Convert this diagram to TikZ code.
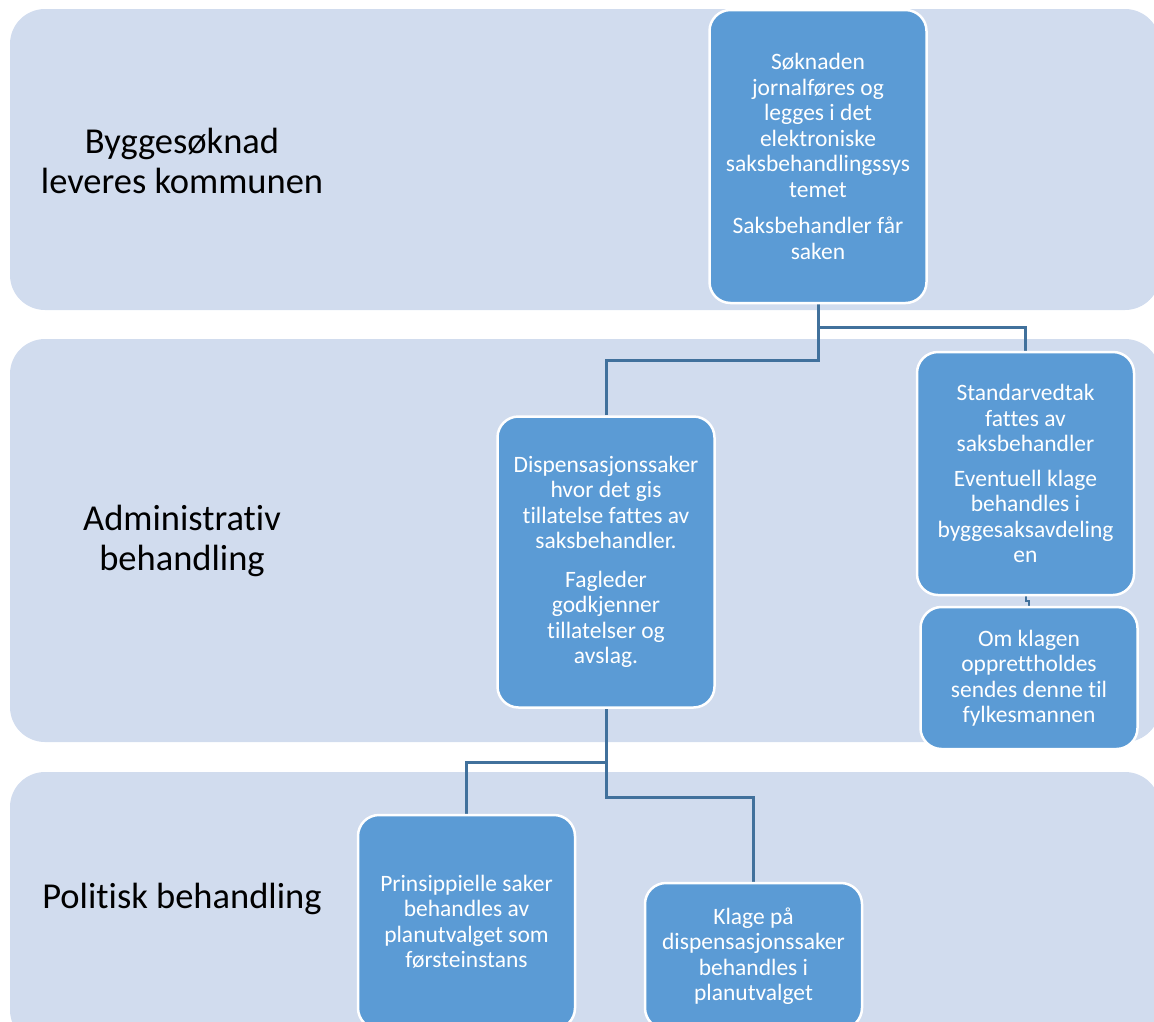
\documentclass[tikz,border=0pt]{standalone}
\usepackage{fontspec}
\setmainfont{Carlito}[Ligatures={NoCommon,NoRare,NoContextual}]
\usetikzlibrary{backgrounds}
\definecolor{bandfill}{RGB}{209,220,238}
\definecolor{boxfill}{RGB}{91,155,213}
\definecolor{connc}{RGB}{65,113,156}
\tikzset{
  band/.style={fill=bandfill, draw=none, rounded corners=35pt},
  bandlabel/.style={text=black, align=center, font=\fontsize{36.5}{40}\selectfont, inner sep=0pt},
  box/.style={fill=boxfill, draw=white, line width=2.5pt, rounded corners=21pt, text=white,
    align=center, font=\fontsize{23.5}{25.5}\selectfont, inner sep=0pt, minimum width=217pt},
  conn/.style={draw=connc, line width=3pt},
}
\begin{document}
\begin{tikzpicture}[x=1pt,y=-1pt]
\useasboundingbox (0,0) rectangle (1154,1021);
% band labels
\node[bandlabel] (l1) at (182,161) {Byggesøknad\\leveres kommunen};
\node[bandlabel] (l2) at (182,541) {Administrativ\\behandling};
\node[bandlabel] (l3) at (182,899) {Politisk behandling};
% boxes
\node[box, minimum height=293pt] (b1) at (818,156.5)
  {Søknaden\\jornalføres og\\legges i det\\elektroniske\\saksbehandlingssys\\temet\\[11pt]Saksbehandler får\\saken};
\node[box, minimum height=291pt] (b2) at (606,562)
  {Dispensasjonssaker\\hvor det gis\\tillatelse fattes av\\saksbehandler.\\[13pt]Fagleder\\godkjenner\\tillatelser og\\avslag.};
\node[box, minimum height=243pt] (b3) at (1025.5,473.5)
  {Standarvedtak\\fattes av\\saksbehandler\\[9pt]Eventuell klage\\behandles i\\byggesaksavdeling\\en};
\node[box, minimum height=142pt] (b4) at (1029,678)
  {Om klagen\\opprettholdes\\sendes denne til\\fylkesmannen};
\node[box, minimum height=214pt] (b5) at (466.5,922)
  {Prinsippielle saker\\behandles av\\planutvalget som\\førsteinstans};
\node[box, minimum height=146pt] (b6) at (753.5,956)
  {Klage på\\dispensasjonssaker\\behandles i\\planutvalget};
\coordinate (j1) at (818,327);
\coordinate (j2) at (818,360);
\coordinate (j3) at (606,762);
\coordinate (j4) at (606,797);
\coordinate (j5) at (1025.5,601);
\begin{pgfonlayer}{background}
  \fill[band] (10,9) rectangle (1160,310);
  \fill[band] (10,339) rectangle (1160,742);
  \fill[band] (10,772) rectangle (1160,1045);
  \draw[conn] (b1.south) -- (j1) -| (b3.north);
  \draw[conn] (j1) -- (j2) -| (b2.north);
  \draw[conn] (b2.south) -- (j3) -| (b5.north);
  \draw[conn] (j3) -- (j4) -| (b6.north);
  \draw[draw=connc, line width=2pt] (b3.south) -- (j5) -| (b4.north);
\end{pgfonlayer}
\end{tikzpicture}
\end{document}
